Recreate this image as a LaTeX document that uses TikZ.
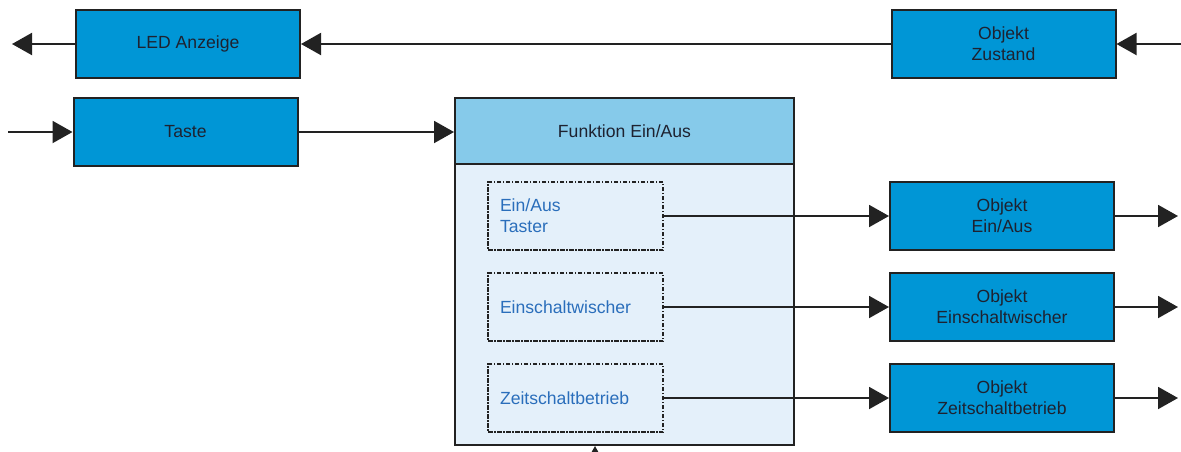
\documentclass[tikz,border=0pt]{standalone}
\usepackage{fontspec}
\setmainfont{Liberation Sans}
\usetikzlibrary{arrows.meta}
\definecolor{boxblue}{HTML}{0096D6}
\definecolor{headblue}{HTML}{86CAEA}
\definecolor{bodyblue}{HTML}{E4F0FA}
\definecolor{edge}{HTML}{222222}
\definecolor{txt}{HTML}{1E2230}
\definecolor{subtxt}{HTML}{2A6EBB}
\begin{document}
\begin{tikzpicture}[x=1pt,y=-1pt,
  lbl/.style={font=\fontsize{17.6}{21}\selectfont},
  obj/.style={lbl,draw=edge, line width=2pt, fill=boxblue, minimum width=224pt, minimum height=68pt, inner sep=0pt, align=center, text=txt},
  sub/.style={lbl,draw=edge, line width=1.6pt, dash pattern=on 4.5pt off 1.5pt on 1.5pt off 1.5pt, minimum width=175pt, minimum height=68pt, text width=151pt, inner xsep=12pt, inner ysep=0pt, align=left, text=subtxt},
  conn/.style={line width=2pt, draw=edge, -{Triangle[length=20pt,width=22pt]}}
]
\useasboundingbox (0,0) rectangle (1181,451);

% top row
\node[obj] (led) at (188,44) {LED Anzeige};
\node[obj] (zust) at (1003.5,44) {Objekt\\Zustand};
\node[obj] (taste) at (185.5,132) {Taste};

% function block
\node[draw=edge, line width=2pt, fill=bodyblue, minimum width=339pt, minimum height=347pt, inner sep=0pt] (func) at (624.5,271.5) {};
\node[lbl, draw=edge, line width=2pt, fill=headblue, minimum width=339pt, minimum height=66pt, inner sep=0pt, text=txt] (head) at (624.5,131) {Funktion Ein/Aus};

\node[sub] (s1) at (575.5,216) {Ein/Aus\\Taster};
\node[sub] (s2) at (575.5,307) {Einschaltwischer};
\node[sub] (s3) at (575.5,398) {Zeitschaltbetrieb};

\node[obj] (o1) at (1002,216) {Objekt\\Ein/Aus};
\node[obj] (o2) at (1002,307) {Objekt\\Einschaltwischer};
\node[obj] (o3) at (1002,398) {Objekt\\Zeitschaltbetrieb};

% free ends
\coordinate (ledout) at (12,44);
\coordinate (zin) at (1181,44);
\coordinate (tin) at (8,132);
\coordinate (e1) at (1178,216);
\coordinate (e2) at (1178,307);
\coordinate (e3) at (1178,398);
\coordinate (bin) at (595,480);

% connectors
\draw[conn] (led.west) -- (ledout);
\draw[conn] (zust.west) -- (led.east);
\draw[conn] (zin) -- (zust.east);
\draw[conn] (tin) -- (taste.west);
\draw[conn] (taste.east) -- (taste.east -| head.west);
\draw[conn] (s1.east) -- (o1.west);
\draw[conn] (s2.east) -- (o2.west);
\draw[conn] (s3.east) -- (o3.west);
\draw[conn] (o1.east) -- (e1);
\draw[conn] (o2.east) -- (e2);
\draw[conn] (o3.east) -- (e3);
\draw[conn] (bin) -- (func.south -| bin);
\end{tikzpicture}
\end{document}
